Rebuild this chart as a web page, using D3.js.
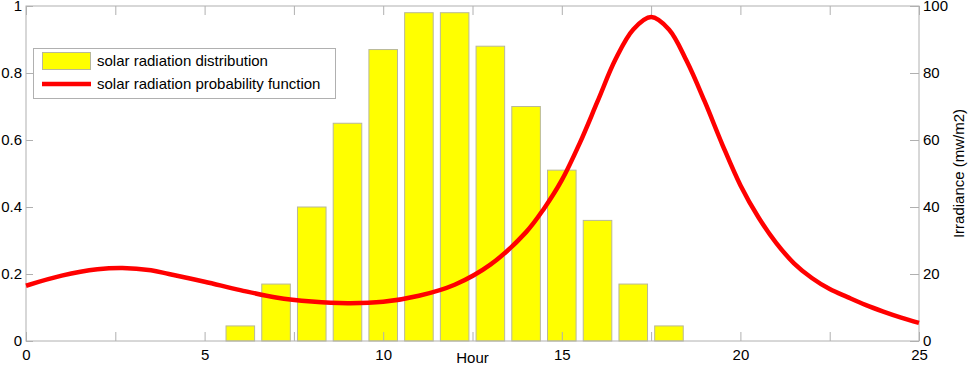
<!DOCTYPE html>
<html>
<head>
<meta charset="utf-8">
<script src="https://cdn.jsdelivr.net/npm/d3@7"></script>
<style>
  html, body { margin: 0; padding: 0; background: #fff; }
  svg { display: block; font-family: "Liberation Sans", Arial, sans-serif; }
</style>
</head>
<body>
<div id="chart"></div>
<script>
// ---- data ----
const barHours = [6, 7, 8, 9, 10, 11, 12, 13, 14, 15, 16, 17, 18];
const barValues = [0.045, 0.17, 0.40, 0.65, 0.87, 0.98, 0.98, 0.88, 0.70, 0.51, 0.36, 0.17, 0.045];

const curveHours = [0, 1, 2, 2.7, 3.5, 4, 5, 6, 7, 8, 9, 10, 11, 12, 13, 14, 14.5, 15, 15.5, 16, 16.5, 17, 17.5, 18, 18.5, 19, 19.5, 20, 20.5, 21, 21.5, 22, 22.5, 23, 23.5, 24, 24.5, 25];
const curveValues = [0.165, 0.195, 0.214, 0.218, 0.211, 0.200, 0.177, 0.152, 0.130, 0.118, 0.113, 0.117, 0.135, 0.168, 0.228, 0.325, 0.395, 0.48, 0.59, 0.715, 0.84, 0.93, 0.967, 0.93, 0.835, 0.715, 0.585, 0.465, 0.37, 0.293, 0.232, 0.188, 0.155, 0.131, 0.108, 0.088, 0.070, 0.054];

const xTicks = [0, 2.5, 5, 7.5, 10, 12.5, 15, 17.5, 20, 22.5, 25];
const xTickLabels = ["0", "", "5", "", "10", "", "15", "", "20", "", "25"];
const yLeftTicks = [0, 0.2, 0.4, 0.6, 0.8, 1];
const yLeftLabels = ["0", "0.2", "0.4", "0.6", "0.8", "1"];
const yRightTicks = [0, 20, 40, 60, 80, 100];
const yRightLabels = ["0", "20", "40", "60", "80", "100"];

const legendLabels = ["solar radiation distribution", "solar radiation probability function"];
const xTitle = "Hour";
const yRightTitle = "Irradiance (mw/m2)";

// ---- layout ----
const W = 969, H = 365;
const L = 26, R = 919, T = 6, B = 341;
const axisColor = "#b0b0b0";
const FS = "15px";

const svg = d3.select("#chart").append("svg").attr("width", W).attr("height", H);

const x = d3.scaleLinear().domain([0, 25]).range([L, R]);
const yL = d3.scaleLinear().domain([0, 1]).range([B, T]);
const yR = d3.scaleLinear().domain([0, 100]).range([B, T]);

// bars
const barW = x(0.8) - x(0);
svg.append("g").selectAll("rect").data(barHours).join("rect")
  .attr("x", (d) => x(d) - barW / 2)
  .attr("width", barW)
  .attr("y", (d, i) => yL(barValues[i]))
  .attr("height", (d, i) => B - yL(barValues[i]))
  .attr("fill", "#ffff00")
  .attr("stroke", "#b8b89a")
  .attr("stroke-width", 1);

// axes
function styleAxis(g) {
  g.select(".domain").remove();
  g.selectAll(".tick line").attr("stroke", axisColor);
  g.selectAll(".tick text").attr("fill", "#000").style("font-size", FS)
    .style("font-family", "'Liberation Sans', Arial, sans-serif");
}

svg.append("g").attr("transform", `translate(0,${B})`)
  .call(d3.axisBottom(x).tickValues(xTicks).tickSizeInner(-9).tickSizeOuter(0)
    .tickFormat((d, i) => xTickLabels[i]))
  .call(styleAxis)
  .call((g) => g.selectAll(".tick text").attr("y", 8));

svg.append("g").attr("transform", `translate(0,${T})`)
  .call(d3.axisTop(x).tickValues(xTicks).tickSizeInner(-9).tickSizeOuter(0).tickFormat(""))
  .call(styleAxis);

svg.append("g").attr("transform", `translate(${L},0)`)
  .call(d3.axisLeft(yL).tickValues(yLeftTicks).tickSizeInner(-7).tickSizeOuter(0)
    .tickFormat((d, i) => yLeftLabels[i]))
  .call(styleAxis)
  .call((g) => g.selectAll(".tick text").attr("x", -4));

svg.append("g").attr("transform", `translate(${R},0)`)
  .call(d3.axisRight(yR).tickValues(yRightTicks).tickSizeInner(-9).tickSizeOuter(0)
    .tickFormat((d, i) => yRightLabels[i]))
  .call(styleAxis)
  .call((g) => g.selectAll(".tick text").attr("x", 4));

// frame
svg.append("rect").attr("x", L).attr("y", T).attr("width", R - L).attr("height", B - T)
  .attr("fill", "none").attr("stroke", axisColor).attr("stroke-width", 1);

// curve
const pts = curveHours.map((h, i) => [h, curveValues[i]]);
svg.append("path").datum(pts)
  .attr("fill", "none").attr("stroke", "#ff0000").attr("stroke-width", 4.5)
  .attr("stroke-linejoin", "round")
  .attr("d", d3.line().x((d) => x(d[0])).y((d) => yL(d[1])).curve(d3.curveCatmullRom.alpha(0.5)));

// titles
svg.append("text").attr("x", (L + R) / 2).attr("y", 363).attr("text-anchor", "middle")
  .style("font-size", FS).text(xTitle);
svg.append("text").attr("transform", `translate(964,${(T + B) / 2}) rotate(-90)`)
  .attr("text-anchor", "middle").style("font-size", FS).text(yRightTitle);

// legend
const lg = svg.append("g");
lg.append("rect").attr("x", 33.5).attr("y", 48.5).attr("width", 302).attr("height", 50)
  .attr("fill", "#fff").attr("stroke", axisColor);
lg.append("rect").attr("x", 42.5).attr("y", 52.5).attr("width", 48).attr("height", 17)
  .attr("fill", "#ffff00").attr("stroke", "#b8b89a");
lg.append("line").attr("x1", 42).attr("x2", 91).attr("y1", 84).attr("y2", 84)
  .attr("stroke", "#ff0000").attr("stroke-width", 4.5);
lg.selectAll("text.lbl").data(legendLabels).join("text").attr("class", "lbl")
  .attr("x", 97).attr("y", (d, i) => 61 + i * 23).attr("dy", "0.35em")
  .style("font-size", FS).text((d) => d);
</script>
</body>
</html>
